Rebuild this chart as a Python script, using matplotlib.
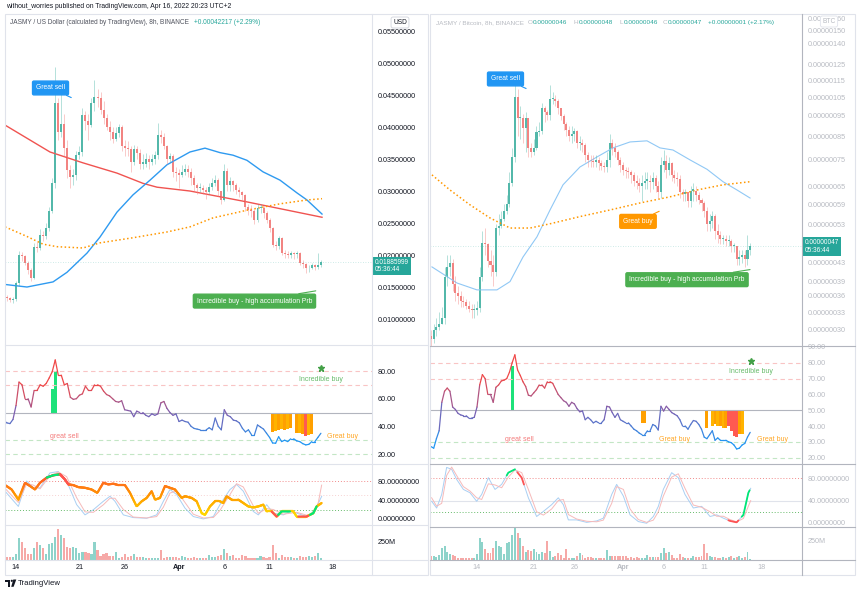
import numpy as np
import matplotlib
matplotlib.use("Agg")
import matplotlib.pyplot as plt
from matplotlib.collections import LineCollection
from matplotlib.colors import LinearSegmentedColormap, Normalize
from matplotlib.transforms import blended_transform_factory
from matplotlib.ticker import FixedLocator, NullLocator
from matplotlib.patches import Rectangle, Polygon, Circle

plt.rcParams["font.family"] = ["Liberation Sans", "DejaVu Sans"]

W, H = 860, 593

# days counted from Mar 14 00:00, last 8h candle opened Apr 16 16:00
LAST_DAY = 33 + 2 / 3
DATE_DAYS = [0, 7, 12, 18, 23, 28, 35]
DATE_LABELS = ["14", "21", "26", "Apr", "6", "11", "18"]

# ---------------- JASMY / USD (left) ----------------
usd_first_open = 0.0137
usd_close = [0.0135, 0.0133, 0.0130, 0.0131, 0.0156, 0.0200, 0.0198, 0.0188, 0.0177, 0.0164,
             0.0213, 0.0211, 0.0231, 0.0229, 0.0242, 0.0268, 0.0312, 0.0437, 0.0393, 0.0405,
             0.0367, 0.0333, 0.0322, 0.0325, 0.0356, 0.0361, 0.0419, 0.0410, 0.0403, 0.0437,
             0.0447, 0.0445, 0.0427, 0.0414, 0.0400, 0.0392, 0.0382, 0.0390, 0.0400, 0.0370,
             0.0368, 0.0365, 0.0346, 0.0365, 0.0360, 0.0343, 0.0343, 0.0350, 0.0345, 0.0350,
             0.0356, 0.0388, 0.0385, 0.0370, 0.0350, 0.0355, 0.0330, 0.0328, 0.0325, 0.0330,
             0.0335, 0.0330, 0.0320, 0.0309, 0.0304, 0.0305, 0.0302, 0.0299, 0.0307, 0.0313,
             0.0317, 0.0300, 0.0286, 0.0331, 0.0309, 0.0315, 0.0309, 0.0302, 0.0298, 0.0294,
             0.0275, 0.0270, 0.0268, 0.0255, 0.0273, 0.0273, 0.0265, 0.0255, 0.0242, 0.0216,
             0.0214, 0.0226, 0.0203, 0.0201, 0.0200, 0.0203, 0.0201, 0.0203, 0.0188, 0.0186,
             0.0179, 0.0180, 0.0184, 0.0181, 0.0185, 0.01886]
usd_high = [0.0140, 0.0138, 0.0135, 0.0134, 0.0160, 0.0206, 0.0205, 0.0200, 0.0190, 0.0180,
            0.0218, 0.0220, 0.0240, 0.0238, 0.0250, 0.0275, 0.0320, 0.0494, 0.0445, 0.0470,
            0.0420, 0.0380, 0.0340, 0.0335, 0.0362, 0.0370, 0.0430, 0.0425, 0.0420, 0.0445,
            0.0473, 0.0460, 0.0455, 0.0440, 0.0420, 0.0410, 0.0400, 0.0400, 0.0405, 0.0403,
            0.0380, 0.0378, 0.0370, 0.0372, 0.0370, 0.0365, 0.0358, 0.0360, 0.0357, 0.0358,
            0.0362, 0.0406, 0.0395, 0.0390, 0.0372, 0.0360, 0.0358, 0.0338, 0.0335, 0.0340,
            0.0342, 0.0340, 0.0336, 0.0325, 0.0312, 0.0312, 0.0310, 0.0307, 0.0312, 0.0320,
            0.0325, 0.0320, 0.0300, 0.0342, 0.0336, 0.0322, 0.0318, 0.0312, 0.0306, 0.0300,
            0.0296, 0.0280, 0.0278, 0.0272, 0.0280, 0.0280, 0.0276, 0.0268, 0.0258, 0.0243,
            0.0222, 0.0230, 0.0228, 0.0208, 0.0206, 0.0206, 0.0205, 0.0206, 0.0204, 0.0192,
            0.0188, 0.0185, 0.0188, 0.0186, 0.0203, 0.0192]
usd_low = [0.0130, 0.0128, 0.0126, 0.0125, 0.0128, 0.0152, 0.0190, 0.0185, 0.0170, 0.0160,
           0.0162, 0.0205, 0.0208, 0.0222, 0.0225, 0.0238, 0.0265, 0.0305, 0.0380, 0.0385,
           0.0355, 0.0320, 0.0305, 0.0310, 0.0318, 0.0350, 0.0355, 0.0395, 0.0380, 0.0400,
           0.0425, 0.0432, 0.0420, 0.0405, 0.0395, 0.0380, 0.0375, 0.0378, 0.0385, 0.0362,
           0.0355, 0.0355, 0.0330, 0.0340, 0.0350, 0.0335, 0.0335, 0.0338, 0.0335, 0.0340,
           0.0342, 0.0350, 0.0375, 0.0365, 0.0342, 0.0345, 0.0322, 0.0315, 0.0305, 0.0322,
           0.0325, 0.0322, 0.0310, 0.0300, 0.0296, 0.0298, 0.0295, 0.0288, 0.0295, 0.0302,
           0.0308, 0.0292, 0.0280, 0.0284, 0.0300, 0.0300, 0.0300, 0.0295, 0.0290, 0.0285,
           0.0268, 0.0262, 0.0260, 0.0248, 0.0252, 0.0265, 0.0258, 0.0250, 0.0236, 0.0212,
           0.0208, 0.0210, 0.0200, 0.0195, 0.0196, 0.0196, 0.0193, 0.0196, 0.0184, 0.0180,
           0.0172, 0.0174, 0.0178, 0.0176, 0.0178, 0.0182]
usd_volume_m = [23, 37, 37, 46, 79, 310, 255, 162, 79, 79,
                162, 255, 208, 162, 79, 218, 232, 324, 430, 347,
                301, 185, 162, 185, 162, 93, 116, 116, 93, 79,
                245, 139, 60, 79, 93, 60, 60, 106, 32, 46,
                79, 46, 60, 79, 46, 46, 46, 32, 23, 32,
                32, 23, 139, 32, 46, 46, 46, 46, 32, 60,
                46, 32, 32, 46, 32, 32, 32, 32, 70, 46,
                46, 60, 70, 153, 93, 60, 70, 32, 32, 70,
                60, 32, 32, 32, 32, 60, 46, 32, 46, 208,
                93, 32, 70, 46, 46, 46, 32, 32, 60, 46,
                46, 60, 46, 60, 102, 23]
usd_rsi = [44, 42.5, 42, 45, 55, 72, 70, 60, 60, 54,
           66, 66, 70, 69, 71, 75, 79.5, 88, 77, 77,
           70, 71, 61, 59.5, 60, 62.5, 63.5, 69, 66, 66,
           70, 70, 69, 65.5, 63, 62, 60, 58, 57.5, 58.5,
           52, 51.5, 51, 47, 51, 50, 50, 48, 47, 49,
           48, 49, 57, 58, 53, 50, 48, 49, 43.5, 44.5,
           43.5, 43, 40, 38.5, 38, 37.5, 37.5, 37.5, 39, 37.5,
           46, 40, 37.5, 52, 48, 47, 44.5, 44, 42.5, 38.6,
           36, 37.5, 34, 34, 41, 39.5, 38, 35, 32, 28,
           27.8, 32.5, 29, 30, 29, 31, 31, 29.5, 29, 27.5,
           26.6, 27, 29, 29, 32, 35]
usd_sell_idx = [16, 17]
usd_sell_top = [67, 80]
usd_buy_idx = [89, 90, 91, 92, 93, 94, 95, 97, 98, 99, 100, 101, 102]
usd_buy_low = [36, 36.5, 37.5, 38, 37.5, 38, 38.5, 35.5, 35, 34.5, 33, 34, 34.5]
usd_buy_kind = ["o", "o2", "o", "o2", "o", "o2", "o", "o", "o2", "o", "r", "o2", "o"]

usd_ma_red_day = [-1.21, 3.75, 7.40, 11.15, 14.02, 15.57, 19.21, 25.5, 33.79]
usd_ma_red = [0.0403, 0.0361, 0.0344, 0.0328, 0.0312, 0.0306, 0.0300, 0.0283, 0.0259]
usd_ma_blue_day = [-1.21, 1.21, 4.09, 5.63, 7.84, 9.27, 11.15, 12.92, 14.8, 16.67,
                   19.21, 20.87, 22.52, 23.96, 25.5, 27.27, 29.15, 31.03, 32.13, 33.79]
usd_ma_blue = [0.0154, 0.0150, 0.0158, 0.0173, 0.0203, 0.0228, 0.0267, 0.0294, 0.0317, 0.0341,
               0.0361, 0.0367, 0.0360, 0.0356, 0.0348, 0.0330, 0.0317, 0.0297, 0.0286, 0.0264]
usd_ma_orange_day = [-1.21, 1.21, 2.98, 4.53, 7.40, 9.27, 12.92, 16.67, 19.21, 21.75,
                     25.5, 29.15, 32.13, 33.79]
usd_ma_orange = [0.0244, 0.0229, 0.0217, 0.0213, 0.0211, 0.0219, 0.0227, 0.0236, 0.0244, 0.0258,
                 0.0270, 0.0280, 0.0286, 0.0288]

usd_stoch_day = [-1.21, -0.48, 0.26, 0.99, 1.55, 2.10, 2.65, 3.39, 4.12, 4.86,
                 5.41, 5.78, 6.33, 6.88, 7.62, 8.35, 8.98, 9.64, 10.19, 10.75,
                 11.30, 12.03, 12.59, 13.32, 13.88, 14.43, 14.98, 15.35, 15.90, 16.45,
                 17.00, 17.56, 18.29, 18.66, 19.40, 19.95, 20.50, 20.87, 21.42, 21.97,
                 22.52, 22.89, 23.26, 23.81, 24.55, 25.10, 25.65, 26.20, 26.76, 27.31,
                 27.68, 28.23, 28.78, 29.33, 29.88, 30.62, 30.99, 31.54, 32.09, 32.83,
                 33.20, 33.75]
usd_stoch = [72, 62.7, 41, 77, 70, 62.7, 77, 88, 93, 95,
             84, 73.5, 72, 67.7, 66.3, 62.7, 55.5, 77, 73.5, 75,
             72, 72, 55.5, 26.6, 37.5, 44.7, 59, 41, 44.7, 70,
             66.3, 62.7, 44.7, 48.3, 44.7, 37.5, 12.3, 8.6, 26.6, 37.5,
             37.5, 33.9, 48.3, 41, 41, 33.9, 26.6, 24.5, 26.6, 30.3,
             15.9, 15.9, 5, 15.9, 15.9, 15.9, 5, 5, 5, 12.3,
             26.6, 33.9]
usd_k_day = [-1.21, 0.26, 1.18, 1.91, 2.65, 3.75, 4.67, 5.59, 6.70, 7.62,
             8.54, 9.64, 10.38, 10.93, 11.85, 12.95, 14.43, 15.53, 16.27, 17.00,
             17.74, 18.66, 19.58, 20.68, 21.79, 22.52, 23.63, 24.36, 25.10, 26.20,
             26.76, 27.68, 28.41, 29.52, 30.25, 30.99, 32.09, 32.83, 33.38, 33.75]
usd_k = [59, 26.6, 80.7, 66.3, 66.3, 98, 101, 80.7, 30.3, 8.6,
         19.5, 37.5, 48.3, 37.5, 8.6, 2.8, 1.4, 8.6, 37.5, 62.7,
         51.9, 23, 5, 0, 5, 30.3, 62.7, 73.5, 59, 15.9,
         8.6, 30.3, 12.3, 8.6, 15.9, 12.3, 5, 15.9, 33, 48]
usd_d = [65, 35, 75, 72, 64, 92, 100, 90, 45, 15,
         14, 30, 44, 44, 20, 4, 2, 5, 25, 55,
         60, 35, 10, 2, 3, 18, 52, 75, 68, 28,
         12, 22, 20, 10, 12, 14, 8, 10, 35, 72]
usd_stoch_marks = [(3.39, 4.78, "g"), (4.86, 5.78, "r"), (28.23, 28.96, "r"),
                   (28.96, 30.25, "g"), (31.17, 32.28, "r"), (32.46, 33.2, "g")]

# ---------------- JASMY / BTC (right), prices in satoshi ----------------
btc_first_open = 29
btc_close = [28.5, 30, 30.5, 31, 32, 39.8, 42, 43, 38.5, 36.6,
             35.9, 35, 34.8, 34.2, 33.5, 33.3, 33.4, 33.8, 39.9, 48,
             47.5, 43.5, 42.5, 41, 52, 52.5, 54.5, 57, 59, 66,
             76, 105, 94, 94, 89, 94, 80, 78, 80, 87,
             87.5, 99, 97, 95.5, 104, 104, 103, 99, 95, 91,
             88, 85, 86, 87.5, 82, 82, 81, 77, 75, 74.5,
             74, 75, 73.5, 72.5, 72, 75, 82, 80, 78, 75,
             73, 71, 70.5, 70, 69, 67, 66, 65, 66, 67,
             67, 66.5, 68, 65, 63, 73, 74.5, 71, 73.5, 69,
             68, 67.5, 63, 62.5, 63, 60, 63.5, 63.5, 62, 60.5,
             59.5, 57, 53, 54, 55.5, 51, 50, 49, 49, 48.5,
             48.5, 47, 47, 44, 44.5, 45, 44, 46, 47]
btc_high = [30, 31, 32, 33, 34, 42, 45, 45, 44, 40,
            38, 37, 36, 35.5, 35, 34.5, 34.5, 35, 42, 51,
            52, 48, 46, 45, 53, 56, 57, 59, 62, 70,
            80, 115, 110, 100, 96, 97, 94, 82, 84, 90,
            92, 102, 100, 98, 112, 108, 106, 104, 99, 96,
            92, 90, 90, 89, 88, 85, 84, 82, 78, 77,
            77, 77, 76, 75, 74, 78, 86, 84, 82, 79,
            76, 74, 72, 72, 71, 70, 69, 68, 69, 70,
            70, 69, 70, 69, 67, 76, 79, 77, 76, 74,
            71, 70, 69, 64, 64, 63, 65, 66, 65, 63,
            61, 60, 58, 56, 57, 56, 53, 51, 50, 50,
            50, 49, 48, 47, 46, 46, 46, 50, 48]
btc_low = [27.5, 28, 29, 30, 31, 31, 38, 40, 37, 35,
           34.5, 34, 34, 33.5, 33, 32, 32, 32.5, 33, 39,
           45, 42, 40, 38, 40, 50, 52, 54, 56, 58,
           65, 74, 85, 84, 82, 78, 76, 76, 77, 79,
           85, 86, 92, 93, 93, 101, 100, 96, 93, 88,
           85, 83, 82, 83, 80, 79, 78, 74, 72, 72,
           72, 72, 71, 71, 70, 70, 72, 77, 76, 73,
           70, 69, 68, 68, 66, 65, 64, 63, 60, 64,
           64, 63, 64, 63, 61, 61, 70, 68, 69, 67,
           66, 65, 61, 60, 60, 58, 58, 60, 60, 59,
           57, 55, 51, 51, 52, 49, 48, 47.5, 47.5, 47,
           47, 45.5, 45.5, 42.5, 42.5, 43, 42, 42.5, 45]
btc_volume_m = [57, 57, 44, 66, 162, 189, 101, 75, 66, 57,
                31, 31, 22, 31, 31, 31, 31, 75, 294, 241,
                145, 88, 88, 154, 250, 189, 176, 75, 220, 241,
                329, 417, 351, 294, 189, 101, 132, 119, 145, 101,
                75, 101, 88, 250, 119, 44, 57, 88, 66, 31,
                145, 31, 31, 31, 57, 88, 66, 31, 44, 44,
                31, 31, 31, 31, 22, 132, 57, 57, 57, 57,
                57, 57, 57, 31, 44, 31, 44, 31, 31, 31,
                66, 44, 44, 44, 44, 88, 154, 88, 101, 66,
                31, 31, 75, 44, 31, 31, 31, 57, 44, 44,
                57, 206, 88, 57, 44, 44, 31, 31, 44, 31,
                44, 57, 31, 44, 57, 31, 44, 101, 13]
btc_rsi = [27, 26, 32, 37, 55, 62, 64, 62, 52, 50.5,
           48, 47, 46.5, 46.5, 45, 45, 45.5, 52, 66, 72.5,
           70, 60, 60, 55, 64.5, 66, 68.5, 69, 70, 74,
           80, 85, 75.5, 72, 68, 65, 59.5, 59, 61, 63,
           66, 66, 64, 68, 68, 67, 63.5, 60, 58, 56,
           55, 52.5, 55, 54, 51, 49, 49.5, 44, 45.5, 44,
           42, 43, 42, 42, 44, 52.5, 52, 48.5, 45.5, 48,
           44, 43, 42, 42, 40, 38, 37, 35.5, 34.5, 34.5,
           37, 37, 41, 40, 37.5, 52.5, 49.5, 52.5, 50.5, 48.5,
           47.5, 46.5, 44, 40, 40, 38, 41, 43.5, 43, 41,
           38, 33, 32, 34.5, 37, 31, 32.5, 31, 31, 31,
           30, 29.5, 28, 25.5, 26, 28, 29, 33, 36]
btc_sell_idx = [30]
btc_sell_top = [77.7]
btc_buy_idx = [78, 79, 102, 104, 105, 106, 107, 108, 109, 110, 111, 112, 113, 114, 115]
btc_buy_low = [42, 42, 39, 40, 41, 40, 40, 39, 39, 40, 37, 34, 33, 35, 35]
btc_buy_kind = ["o", "o", "o", "o2", "o", "o2", "o", "o2", "o", "r", "r", "r", "r", "o", "o2"]

btc_ma_blue_day = [-5.55, -2.46, 0, 2.46, 4.07, 5.67, 7.39, 9.0, 10.6, 12.69, 14.79,
                   16.76, 18.86, 20.95, 22.55, 24.15, 26.25, 28.35, 30.32, 32.04, 33.65]
btc_ma_blue = [42.1, 38.6, 37.2, 37.2, 38.9, 44.4, 49.5, 57.2, 65.5, 72.1, 76.1,
               79.9, 82.5, 83, 79.9, 79.0, 74.9, 71.2, 66.6, 63.7, 61.0]
btc_ma_orange_day = [-5.55, -3.33, -0.86, 1.6, 4.07, 6.53, 9.0, 12.69, 16.39, 20.09,
                     23.79, 27.11, 30.32, 33.65]
btc_ma_orange = [69.1, 63.7, 58.8, 54.8, 51.9, 51.9, 53.1, 55.2, 57.2, 59.4,
                 61.4, 63.7, 65.5, 66.6]

btc_k_day = [-5.59, -4.97, -4.35, -3.74, -3.12, -2.51, -1.68, -0.86, -0.04, 0.58,
             1.40, 2.22, 3.04, 3.86, 4.68, 5.51, 6.33, 7.35, 8.18, 9.20,
             10.02, 10.64, 11.26, 12.28, 13.52, 14.75, 15.57, 16.60, 17.21, 18.04,
             18.86, 19.88, 20.91, 21.73, 22.35, 22.96, 23.99, 24.81, 25.63, 26.66,
             27.69, 28.72, 29.54, 30.36, 31.18, 32.00, 32.83, 33.44, 33.73]
btc_k = [38.8, 26.7, 50.9, 99.4, 96, 78, 60, 54, 38.8, 51,
         81, 60, 69, 90, 96, 81, 45, 11.5, 20.6, 32.7,
         45, 32.7, 5.4, 5.4, 1, 3.6, 8.5, 50.9, 69, 48,
         14.5, 2.4, -0.6, 11.5, 29.7, 60, 90, 81, 51, 26.7,
         29.7, 11.5, 14.5, 8.5, 3.6, 1, 14.5, 54, 62]
btc_d = [45, 30, 35, 85, 100, 85, 65, 57, 45, 42,
         70, 68, 63, 82, 95, 90, 60, 20, 14, 25,
         40, 42, 15, 7, 3, 2, 5, 35, 65, 60,
         25, 6, 1, 5, 20, 48, 82, 88, 62, 32,
         28, 20, 12, 12, 6, 2, 8, 30, 40]
btc_stoch_marks = [(3.66, 4.68, "g"), (4.97, 5.79, "r"), (30.98, 32.21, "r"), (32.62, 33.6, "g")]
btc_price_ticks = [160, 150, 140, 125, 115, 105, 95, 85, 75, 65, 59, 53, 43, 39, 36, 33, 30]

# ---------------- styles ----------------
UP, DOWN = "#53b8aa", "#f28482"
VOL_UP, VOL_DOWN = "#8ed3ca", "#f6a9a7"
TEAL = "#26a69a"
DARK = "#131722"
FADED = "#b8bbc2"
BUY_COLORS = {"o": "#ffa000", "o2": "#ffb300", "r": "#ff5a52"}
MARK_COLORS = {"g": "#00e676", "r": "#ff5252"}
RSI_CMAP = LinearSegmentedColormap.from_list("rsi", ["#2196f3", "#7e5fb0", "#f04848"])
STOCH_CMAP = LinearSegmentedColormap.from_list("stoch", ["#ffd600", "#ff9800", "#ff5a2a"])

fig = plt.figure(figsize=(W / 100, H / 100), dpi=100)


def px_axes(x0, y0, x1, y1):
    return fig.add_axes([x0 / W, 1 - y1 / H, (x1 - x0) / W, (y1 - y0) / H])


def candle_days(n):
    return LAST_DAY - (n - 1 - np.arange(n)) / 3.0


def setup_pane(ax, xlim, ylim, label_color):
    ax.set_xlim(*xlim)
    ax.set_ylim(*ylim)
    for s in ax.spines.values():
        s.set_visible(False)
    ax.yaxis.tick_right()
    ax.tick_params(axis="y", length=0, pad=4.3, labelsize=5.2, labelcolor=label_color)
    ax.set_xticks([])


def color_line(ax, x, y, cmap, norm, lw):
    pts = np.column_stack([x, y]).reshape(-1, 1, 2)
    segs = np.concatenate([pts[:-1], pts[1:]], axis=1)
    lc = LineCollection(segs, cmap=cmap, norm=norm, linewidths=lw, capstyle="round")
    lc.set_array((np.asarray(y[:-1]) + np.asarray(y[1:])) / 2)
    ax.add_collection(lc)


def draw_candles(ax, days, first_open, close, high, low, width):
    close = np.asarray(close, float)
    high = np.asarray(high, float)
    low = np.asarray(low, float)
    opens = np.concatenate([[first_open], close[:-1]])
    up = close >= opens
    ax.vlines(days[up], low[up], high[up], colors=UP, alpha=0.5, lw=0.6)
    ax.vlines(days[~up], low[~up], high[~up], colors=DOWN, alpha=0.5, lw=0.6)
    body_h = np.maximum(np.abs(close - opens), close * 0.006)
    ax.bar(days, body_h, bottom=np.minimum(opens, close), width=width,
           color=np.where(up, UP, DOWN), lw=0)
    return up


def callout(ax, text, xy_box, xy_tail, color):
    ax.annotate(text, xy=xy_tail, xytext=xy_box, ha="center", va="center",
                fontsize=4.9, color="white",
                bbox=dict(boxstyle="round,pad=0.5,rounding_size=0.2", fc=color, ec=color),
                arrowprops=dict(arrowstyle="-", color=color, lw=0.8, shrinkA=0, shrinkB=0))


def price_tag(ax, value, text, drop=0.0):
    tr = blended_transform_factory(ax.transAxes, ax.transData)
    ax.annotate(text, xy=(1.0, value), xycoords=tr, xytext=(2.2, -drop), textcoords="offset points",
                ha="left", va="center", fontsize=4.7, color="white", linespacing=1.12,
                bbox=dict(boxstyle="square,pad=0.3", fc=TEAL, ec="none"), annotation_clip=False)
    ax.axhline(value, color=TEAL, alpha=0.3, lw=0.6, ls=(0, (1, 2)))


def draw_rsi(ax, days, rsi, sell_idx, sell_top, buy_idx, buy_low, buy_kind):
    for lvl, col in ((80, "#f9c4c4"), (70, "#f9c4c4"), (30, "#c3e6c5"), (20, "#c3e6c5")):
        ax.axhline(lvl, color=col, lw=0.8, ls=(0, (4, 3)))
    ax.axhline(50, color="#b2b5be", lw=0.8)
    sell_idx = np.asarray(sell_idx)
    ax.bar(days[sell_idx], np.asarray(sell_top) - 50, bottom=50, width=0.36,
           color="#1de27a", lw=0)
    buy_idx = np.asarray(buy_idx)
    low = np.asarray(buy_low, float)
    ax.bar(days[buy_idx], 50 - low, bottom=low, width=0.35,
           color=[BUY_COLORS[k] for k in buy_kind], lw=0)
    color_line(ax, days, np.asarray(rsi, float), RSI_CMAP, Normalize(30, 70), 0.9)


def draw_stoch(ax, k_day, k, d, marks, thick_day=None, thick=None, mid_level=50, mid_style="dot"):
    ax.axhline(80, color="#f28b8b", lw=0.7, ls=(0, (1, 2)))
    ax.axhline(20, color="#66bb6a", lw=0.7, ls=(0, (1, 2)))
    if mid_style == "dot":
        ax.axhline(mid_level, color="#f6d2d2", lw=0.7, ls=(0, (1, 2)))
    else:
        ax.axhline(mid_level, color="#e0e3eb", lw=0.8)
    ax.plot(k_day, k, color="#a9cff3", lw=0.7)
    ax.plot(k_day, d, color="#f6baba", lw=0.7)
    base_x, base_y = k_day, k
    if thick is not None:
        fx = np.linspace(thick_day[0], thick_day[-1], 500)
        fy = np.interp(fx, thick_day, thick)
        color_line(ax, fx, fy, STOCH_CMAP, Normalize(10, 90), 1.6)
        base_x, base_y = thick_day, thick
    for d0, d1, kind in marks:
        mx = np.linspace(d0, d1, 20)
        ax.plot(mx, np.interp(mx, base_x, base_y), color=MARK_COLORS[kind],
                lw=1.6 if thick is not None else 1.3, solid_capstyle="round")


def draw_volume(ax, days, vol, up, width, label_color):
    ax.bar(days, vol, width=width, color=np.where(up, VOL_UP, VOL_DOWN), lw=0)
    ax.set_xticks(DATE_DAYS, DATE_LABELS)
    ax.tick_params(axis="x", length=0, pad=2.6, labelsize=5.2, labelcolor=label_color)
    for lbl in ax.get_xticklabels():
        if lbl.get_text() == "Apr":
            lbl.set_fontweight("bold")


def main():
    # ---------- left chart ----------
    xl = (-1.215, 39.31)
    t = candle_days(len(usd_close))
    ax = px_axes(5, 14, 372, 345)
    setup_pane(ax, xl, (0.00594, 0.05766), DARK)
    ticks = [0.010, 0.015, 0.020, 0.025, 0.030, 0.035, 0.040, 0.045, 0.050, 0.055]
    ax.set_yticks(ticks, [f"{v:.8f}" for v in ticks])
    ax.plot(usd_ma_red_day, usd_ma_red, color="#f05350", lw=1.0)
    ax.plot(usd_ma_blue_day, usd_ma_blue, color="#2e9af0", lw=1.0)
    ax.plot(usd_ma_orange_day, usd_ma_orange, color="#ff9800", lw=1.1, ls=(0, (1, 1.6)))
    up_l = draw_candles(ax, t, usd_first_open, usd_close, usd_high, usd_low, 0.22)
    price_tag(ax, usd_close[-1], "0.01885999\n05:36:44", drop=2.6)
    callout(ax, "Great sell", (3.81, 0.0461), (6.1, 0.0446), "#2196f3")
    callout(ax, "Incredible buy - high accumulation Prb", (26.33, 0.0128), (33.1, 0.0144), "#4caf50")

    ax = px_axes(5, 345, 372, 464)
    setup_pane(ax, xl, (12.8, 98.8), DARK)
    ax.set_yticks([20, 40, 60, 80], ["20.00", "40.00", "60.00", "80.00"])
    draw_rsi(ax, t, usd_rsi, usd_sell_idx, usd_sell_top, usd_buy_idx, usd_buy_low, usd_buy_kind)
    ax.text(5.36, 33, "great sell", color="#f47c7c", fontsize=5, ha="center", va="center")
    ax.text(36.0, 33, "Great buy", color="#ffa726", fontsize=5, ha="center", va="center")
    ax.text(33.7, 74.2, "Incredible buy", color="#66bb6a", fontsize=5, ha="center", va="center")
    ax.plot([33.7], [82], marker="*", color="#43a047", ms=5, ls="none")

    ax = px_axes(5, 464, 372, 525)
    setup_pane(ax, xl, (-13, 117), DARK)
    ax.set_yticks([0, 40, 80], ["0.00000000", "40.00000000", "80.00000000"])
    draw_stoch(ax, usd_k_day, usd_k, usd_d, usd_stoch_marks, usd_stoch_day, usd_stoch)

    ax = px_axes(5, 525, 372, 560)
    setup_pane(ax, xl, (0, 486), DARK)
    ax.set_yticks([250], ["250M"])
    draw_volume(ax, t, usd_volume_m, up_l, 0.24, DARK)

    # ---------- right chart ----------
    xr = (-5.79, 40.05)
    t = candle_days(len(btc_close))
    ax = px_axes(430, 14, 802, 346)
    setup_pane(ax, xr, (27.5, 164.3), FADED)
    ax.set_yscale("log")
    ax.set_ylim(27.5, 164.3)
    ax.yaxis.set_major_locator(FixedLocator(btc_price_ticks))
    ax.yaxis.set_minor_locator(NullLocator())
    ax.set_yticklabels([f"{v * 1e-8:.8f}" for v in btc_price_ticks])
    ax.tick_params(axis="y", which="both", length=0)
    ax.plot(btc_ma_blue_day, btc_ma_blue, color="#90c8f5", lw=0.8)
    ax.plot(btc_ma_orange_day, btc_ma_orange, color="#ff9800", lw=1.1, ls=(0, (1, 1.6)))
    up_r = draw_candles(ax, t, btc_first_open, btc_close, btc_high, btc_low, 0.25)
    price_tag(ax, btc_close[-1], "0.00000047\n05:36:44")
    callout(ax, "Great sell", (3.51, 115.8), (6.05, 110), "#2196f3")
    callout(ax, "Great buy", (19.84, 53.8), (22.45, 56.8), "#ff9800")
    callout(ax, "Incredible buy - high accumulation Prb", (25.88, 39.3), (33.65, 41.5), "#4caf50")

    ax = px_axes(430, 346, 802, 464)
    setup_pane(ax, xr, (16, 90.6), FADED)
    rt = [20, 30, 40, 50, 60, 70, 80, 90]
    ax.set_yticks(rt, [f"{v:.2f}" for v in rt])
    draw_rsi(ax, t, btc_rsi, btc_sell_idx, btc_sell_top, btc_buy_idx, btc_buy_low, btc_buy_kind)
    ax.text(5.24, 31.3, "great sell", color="#f47c7c", fontsize=5, ha="center", va="center")
    ax.text(24.4, 31.3, "Great buy", color="#ffa726", fontsize=5, ha="center", va="center")
    ax.text(36.4, 31.3, "Great buy", color="#ffa726", fontsize=5, ha="center", va="center")
    ax.text(33.7, 74.3, "Incredible buy", color="#66bb6a", fontsize=5, ha="center", va="center")
    ax.plot([33.75], [81.3], marker="*", color="#43a047", ms=5, ls="none")

    ax = px_axes(430, 464, 802, 527)
    setup_pane(ax, xr, (-7.3, 105.5), FADED)
    ax.set_yticks([0, 40, 80], ["0.00000000", "40.00000000", "80.00000000"])
    draw_stoch(ax, btc_k_day, btc_k, btc_d, btc_stoch_marks, mid_level=40, mid_style="solid")

    ax = px_axes(430, 527, 802, 560)
    setup_pane(ax, xr, (0, 434), FADED)
    ax.set_yticks([250], ["250M"])
    draw_volume(ax, t, btc_volume_m, up_r, 0.24, FADED)

    # ---------- frame, headers, logo ----------
    ov = fig.add_axes([0, 0, 1, 1], zorder=10)
    ov.set_xlim(0, W)
    ov.set_ylim(H, 0)
    ov.axis("off")
    ov.patch.set_alpha(0)
    light, mid = "#e0e3eb", "#b2b5be"
    ov.add_patch(Rectangle((5, 14), 423, 561, fill=False, ec=light, lw=0.8))
    ov.add_patch(Rectangle((430, 14), 425, 561, fill=False, ec=light, lw=0.8))
    ov.plot([372, 372], [14, 575], color=light, lw=0.8)
    for y in (345, 464, 525, 560):
        ov.plot([5, 428], [y, y], color=light, lw=0.8)
    ov.plot([802, 802], [14, 575], color=mid, lw=0.8)
    for y in (346, 464, 527, 560):
        ov.plot([430, 855], [y, y], color=mid, lw=0.8)

    ov.text(6, 7, "without_worries published on TradingView.com, Apr 16, 2022 20:23 UTC+2",
            fontsize=4.85, color=DARK, va="center")
    ov.text(9.5, 22.5, "JASMY / US Dollar (calculated by TradingView), 8h, BINANCE",
            fontsize=4.7, color="#50535e", va="center")
    ov.text(194, 22.5, "+0.00042217 (+2.29%)", fontsize=4.7, color=TEAL, va="center")
    ov.text(436, 22.5, "JASMY / Bitcoin, 8h, BINANCE", fontsize=4.6, color=FADED, va="center")
    for x, s, c in ((528, "O", FADED), (533, "0.00000046", TEAL), (574, "H", FADED),
                    (579, "0.00000048", TEAL), (619, "L", FADED), (623.5, "0.00000046", TEAL),
                    (663, "C", FADED), (667.5, "0.00000047", TEAL),
                    (708, "+0.00000001 (+2.17%)", TEAL)):
        ov.text(x, 22.5, s, fontsize=4.6, color=c, va="center")
    ov.text(400, 22.5, "USD", fontsize=4.8, color=DARK, ha="center", va="center",
            bbox=dict(boxstyle="round,pad=0.3,rounding_size=0.3", fc="white", ec="#d1d4dc", lw=0.6))
    ov.text(829, 21.5, "BTC", fontsize=4.8, color=FADED, ha="center", va="center",
            bbox=dict(boxstyle="round,pad=0.3,rounding_size=0.3", fc="white", ec="#e0e3eb", lw=0.6))

    ov.add_patch(Polygon([(5, 579.5), (10.2, 579.5), (10.2, 586.8), (7.6, 586.8),
                          (7.6, 581.8), (5, 581.8)], closed=True, fc=DARK, ec="none"))
    ov.add_patch(Circle((11.8, 580.8), 1.1, fc=DARK, ec="none"))
    ov.add_patch(Polygon([(13.3, 579.5), (16.3, 579.5), (13.6, 586.8), (11.2, 586.8)],
                         closed=True, fc=DARK, ec="none"))
    ov.text(18, 583.3, "TradingView", fontsize=5.6, color=DARK, va="center")

    fig.savefig("out.png", dpi=100, facecolor="white")


if __name__ == "__main__":
    main()
